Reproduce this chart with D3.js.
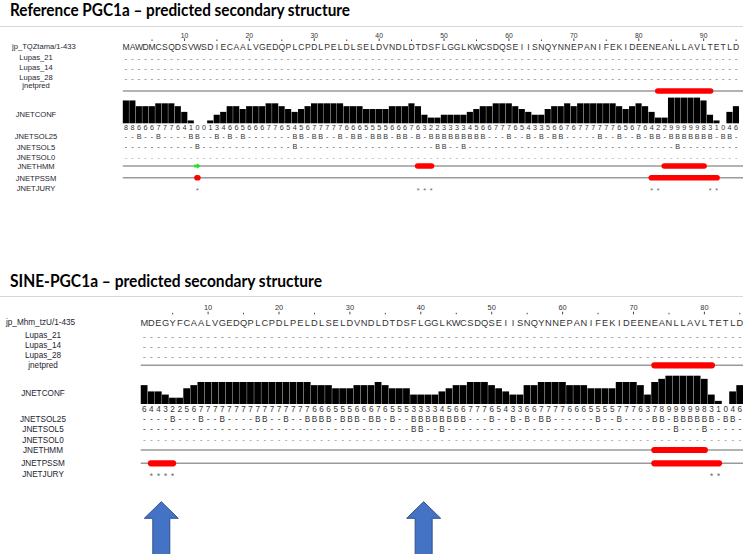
<!DOCTYPE html>
<html>
<head>
<meta charset="utf-8">
<script src="https://cdn.jsdelivr.net/npm/d3@7/dist/d3.min.js"></script>
<style>
  body { margin: 0; background: #fff; }
  svg { display: block; font-family: "Liberation Sans", Arial, sans-serif; }
</style>
</head>
<body>
<svg id="chart" width="743" height="554"></svg>
<script>
// ---- values ----
const refTitle = 'Reference PGC1a \u2013 predicted secondary structure';
const refName = 'jp_TQZtama/1-433';
const refSeq = 'MAWDMCSQDSVWSDIECAALVGEDQPLCPDLPELDLSELDVNDLDTDSFLGGLKWCSDQSEIISNQYNNEPANIFEKIDEENEANLLAVLTETLD'.split('');
const refConf = [8,8,6,6,6,7,7,7,6,4, 1,0,0,1,3,4,6,6,5,6, 6,6,7,7,6,5,4,5,6,7, 7,7,7,7,6,6,6,5,5,
  5,5,6,6,6,7,6,3,2,2, 3,3,3,3,4,5,6,6,7,7, 7,6,5,4,3,3,5,6,6,7, 6,7,7,7,7,7,7,6,5,6, 7,6,4,2,2,9,9,9,9,9, 8,3,1,0,4,6];
const refSol25 = [3,6,11,12,15,17,19,27,28,30,31,34,36,37,39,40,41,43,44,46,48,49,50,51,52,53,54,55,56,
  60,63,65,67,68,74,77,80,82,83,85,86,87,88,89,90,91,93,94];
const refSol5 = [12,27,49,50,53,86];
const refPred = [[83, 91]];
const refHmmHelix = [[46, 48], [84, 90]];
const refHmmStrand = [[12, 12]];
const refPssmHelix = [[12, 12], [82, 92]];
const refJury = [12, 46, 47, 48, 82, 83, 91, 92];

const sineTitle = 'SINE-PGC1a \u2013 predicted secondary structure';
const sineName = 'jp_Mhm_tzU/1-435';
const sineSeq = 'MDEGYFCAALVGEDQPLCPDLPELDLSELDVNDLDTDSFLGGLKWCSDQSEIISNQYNNEPANIFEKIDEENEANLLAVLTETLD'.split('');
const sineConf = [6,4,4,3,2,2,5,6,7,7, 7,7,7,7,7,7,7,7,7,7, 7,7,7,7,6,6,6,5,5,5, 6,6,
  6,7,6,5,5,5,3,3,3,3, 4,5,6,6,7,7,7,6,5,4, 3,3,6,6,7,7,7,7,6,6, 6,5,5,5,5,7,7,7,6,3, 7,8,9,9,9,9,9,8,3,1, 0,4,6];
const sineSol25 = [5,9,12,17,18,21,24,25,26,27,29,30,31,33,34,36,39,40,41,42,43,44,45,46,
  50,53,55,57,58,65,68,73,74,76,77,78,79,80,81,83,84];
const sineSol5 = [39,40,43,76,80];
const sinePred = [[73, 81]];
const sineHmmHelix = [[73, 80]];
const sineHmmStrand = [];
const sinePssmHelix = [[2, 5], [73, 82]];
const sineJury = [2, 3, 4, 5, 81, 82];
const arrowCols = [3.4, 40.4];

const lupasNames = ['Lupas_21', 'Lupas_14', 'Lupas_28'];

// ---- layout ----
const W = 743;
let svg = d3.select('#chart');

let panel = (cfg, d) => {
  let g = svg.append('g');
  let n = d.seq.length;
  let cols = d3.range(1, n + 1);
  let x = d3.scaleBand().domain(cols).range([cfg.x0, cfg.x0 + cfg.w * n]);
  let xc = d3.scaleLinear().domain([0.5, n + 0.5]).range([cfg.x0, cfg.x0 + cfg.w * n]);
  let r = cfg.rows;

  // title + rule
  g.append('text')
    .attr('x', 10)
    .attr('y', cfg.titleY)
    .attr('textLength', cfg.titleW)
    .attr('lengthAdjust', 'spacingAndGlyphs')
    .style('font-family', 'Lato, "Open Sans", sans-serif')
    .style('font-weight', 'bold')
    .style('font-size', '16.5px')
    .style('fill', '#000')
    .text(d.title);
  g.append('line')
    .attr('x1', 0).attr('x2', W)
    .attr('y1', cfg.ruleY).attr('y2', cfg.ruleY)
    .style('stroke', '#d6d6d6')
    .style('stroke-width', 1);

  let label = (t, y) => g.append('text')
    .attr('x', cfg.labelX)
    .attr('y', y)
    .attr('text-anchor', 'middle')
    .attr('dominant-baseline', 'central')
    .style('font-size', cfg.labelFs + 'px')
    .style('fill', '#1e2430')
    .text(t);

  let charRow = (chars, y, fs, fill) => g.append('g')
    .selectAll('text')
    .data(chars)
    .join('text')
      .attr('x', (c, i) => xc(i + 1))
      .attr('y', y)
      .attr('text-anchor', 'middle')
      .attr('dominant-baseline', 'central')
      .style('font-size', fs + 'px')
      .style('fill', fill)
      .text(c => c);

  // ruler
  let tens = cols.filter(i => i % 10 === 0);
  let fives = cols.filter(i => i % 10 === 5);
  g.append('g').selectAll('text')
    .data(tens)
    .join('text')
      .attr('x', i => xc(i))
      .attr('y', r.num)
      .attr('text-anchor', 'middle')
      .style('font-size', cfg.numFs + 'px')
      .style('fill', '#333')
      .text(i => i);
  g.append('g').selectAll('line')
    .data(tens.concat(fives))
    .join('line')
      .attr('x1', i => xc(i)).attr('x2', i => xc(i))
      .attr('y1', i => r.tick - (i % 10 === 0 ? 1.8 : 0.7))
      .attr('y2', r.tick + 0.8)
      .style('stroke', '#444')
      .style('stroke-width', 1);

  // sequence
  g.append('text')
    .attr('x', cfg.nameX)
    .attr('y', r.seq)
    .attr('dominant-baseline', 'central')
    .style('font-size', cfg.labelFs + 'px')
    .style('fill', '#1e2430')
    .text(d.name);
  charRow(d.seq, r.seq, cfg.seqFs, '#333');

  // Lupas rows
  lupasNames.forEach((nm, k) => {
    label(nm, r.lupas[k]);
    charRow(cols.map(() => '-'), r.lupas[k] + 1.5, cfg.seqFs, '#8a8a8a');
  });

  // secondary-structure tracks
  let track = (y, helices, strands) => {
    g.append('line')
      .attr('x1', cfg.x0).attr('x2', W)
      .attr('y1', y).attr('y2', y)
      .style('stroke', '#9a9a9a')
      .style('stroke-width', 1.6);
    g.append('g').selectAll('rect')
      .data(helices)
      .join('rect')
        .attr('x', h => x(h[0]))
        .attr('y', y - cfg.helixH / 2)
        .attr('width', h => x(h[1]) + x.bandwidth() - x(h[0]))
        .attr('height', cfg.helixH)
        .attr('rx', cfg.helixH / 2)
        .style('fill', '#ff0000');
    g.append('g').selectAll('path')
      .data(strands)
      .join('path')
        .attr('d', s => {
          let a = x(s[0]);
          let b = x(s[1]) + x.bandwidth();
          let m = a + (b - a) * 0.45;
          let h = cfg.helixH / 2;
          return d3.line()([[a, y - h * 0.55], [m, y - h * 0.55], [m, y - h], [b, y],
            [m, y + h], [m, y + h * 0.55], [a, y + h * 0.55]]) + 'Z';
        })
        .style('fill', '#1fe61f');
  };

  label('jnetpred', r.predLbl);
  track(r.pred, d.pred, []);

  // confidence bars
  label('JNETCONF', r.confLbl);
  let yConf = d3.scaleLinear().domain([0, 9]).range([r.confBase, r.confBase - cfg.conf9]);
  g.append('g').selectAll('rect')
    .data(d.conf)
    .join('rect')
      .attr('x', (v, i) => x(i + 1))
      .attr('y', v => yConf(v))
      .attr('width', x.bandwidth() - 0.35)
      .attr('height', v => r.confBase - yConf(v))
      .style('fill', '#000');
  charRow(d.conf.map(String), r.digits, cfg.digFs, '#333');

  // solvent accessibility
  let sol = set => cols.map(i => set.includes(i) ? 'B' : '-');
  label('JNETSOL25', r.sol25Lbl);
  charRow(sol(d.sol25), r.sol25, cfg.digFs, '#333');
  label('JNETSOL5', r.sol5Lbl);
  charRow(sol(d.sol5), r.sol5, cfg.digFs, '#333');
  label('JNETSOL0', r.sol0Lbl);
  charRow(cols.map(() => '-'), r.sol0 + 1, cfg.digFs, '#9a9a9a');

  label('JNETHMM', r.hmmLbl);
  track(r.hmm, d.hmmHelix, d.hmmStrand);
  label('JNETPSSM', r.pssmLbl);
  track(r.pssm, d.pssmHelix, []);

  label('JNETJURY', r.juryLbl);
  g.append('g').selectAll('text')
    .data(d.jury)
    .join('text')
      .attr('x', i => xc(i))
      .attr('y', r.jury + 3)
      .attr('text-anchor', 'middle')
      .attr('dominant-baseline', 'central')
      .style('font-size', cfg.digFs + 'px')
      .style('fill', '#666')
      .text('*');

  return xc;
};

panel({
  x0: 122.8, w: 6.49, titleY: 15.5, titleW: 340, ruleY: 26.5,
  labelX: 36, nameX: 12, labelFs: 7.6, seqFs: 8.6, numFs: 6.8, digFs: 7.2,
  conf9: 25.7, helixH: 5.6,
  rows: {
    num: 37.5, tick: 40.2, seq: 46.8,
    lupas: [57.6, 67, 77], predLbl: 85.5, pred: 91,
    confLbl: 114, confBase: 123.3, digits: 127.6,
    sol25Lbl: 136.8, sol25: 136,
    sol5Lbl: 147, sol5: 146.7,
    sol0Lbl: 157, sol0: 156.5,
    hmmLbl: 166.5, hmm: 166,
    pssmLbl: 178, pssm: 177.7,
    juryLbl: 188, jury: 187.7
  }
}, {
  title: refTitle, name: refName, seq: refSeq, conf: refConf,
  sol25: refSol25, sol5: refSol5, pred: refPred,
  hmmHelix: refHmmHelix, hmmStrand: refHmmStrand,
  pssmHelix: refPssmHelix, jury: refJury
});

let xs = panel({
  x0: 140.75, w: 7.09, titleY: 287, titleW: 312, ruleY: 296.5,
  labelX: 43, nameX: 6, labelFs: 8.2, seqFs: 9.3, numFs: 7.4, digFs: 8.2,
  conf9: 28.3, helixH: 6.2,
  rows: {
    num: 309.6, tick: 313.5, seq: 322.5,
    lupas: [335, 345, 355], predLbl: 365.7, pred: 365.3,
    confLbl: 393.3, confBase: 404, digits: 409.2,
    sol25Lbl: 419.5, sol25: 419.3,
    sol5Lbl: 429.5, sol5: 429.3,
    sol0Lbl: 440, sol0: 439.5,
    hmmLbl: 450, hmm: 450,
    pssmLbl: 463.3, pssm: 463.3,
    juryLbl: 474, jury: 473.5
  }
}, {
  title: sineTitle, name: sineName, seq: sineSeq, conf: sineConf,
  sol25: sineSol25, sol5: sineSol5, pred: sinePred,
  hmmHelix: sineHmmHelix, hmmStrand: sineHmmStrand,
  pssmHelix: sinePssmHelix, jury: sineJury
});

// block arrows pointing at the residues of interest
svg.append('g').selectAll('path')
  .data(arrowCols)
  .join('path')
    .attr('d', c => {
      let cx = xs(c);
      return d3.line()([[cx, 501.7], [cx + 17, 518.3], [cx + 8.5, 518.3], [cx + 8.5, 560],
        [cx - 8.5, 560], [cx - 8.5, 518.3], [cx - 17, 518.3]]) + 'Z';
    })
    .style('fill', '#4472c4')
    .style('stroke', '#2f528f')
    .style('stroke-width', 1);
</script>
</body>
</html>
